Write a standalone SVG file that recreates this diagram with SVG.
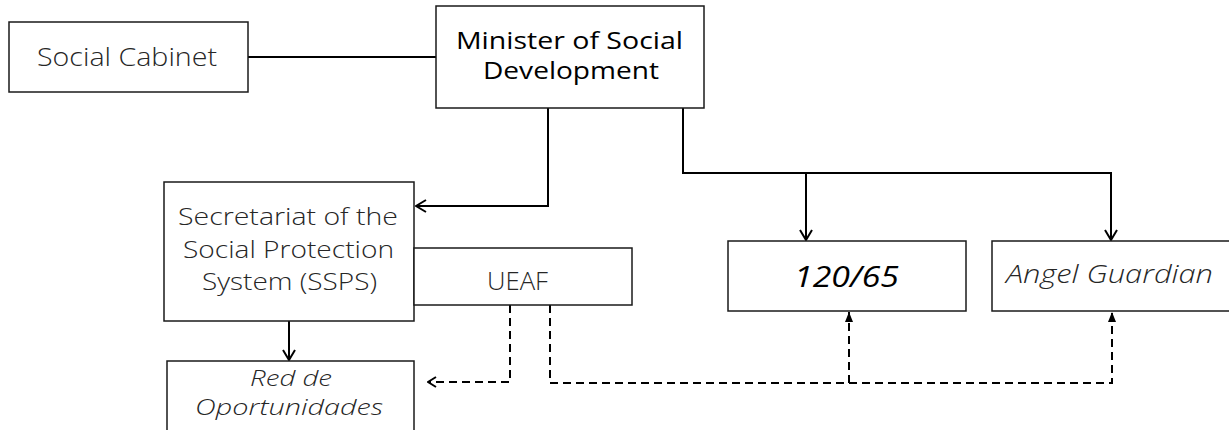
<svg xmlns="http://www.w3.org/2000/svg" width="1229" height="430" viewBox="0 0 1229 430">
  <style>
    .box { fill: #ffffff; stroke: #1a1a1a; stroke-width: 1.5; }
    .lbl { font-family: "Open Sans", "Noto Sans", "DejaVu Sans", sans-serif; font-size: 26px; font-weight: 300; fill: #262626; text-anchor: middle; }
    .tight { font-size: 24px; }
    .tighter { font-size: 22px; }
    .strong { font-weight: 400; fill: #000000; }
    .it { font-style: italic; }
    .solid { fill: none; stroke: #000000; stroke-width: 2; }
    .dash { fill: none; stroke: #000000; stroke-width: 2; stroke-dasharray: 8 5; }
  </style>
  <defs>
    <marker id="chev" viewBox="0 0 12 14" refX="11" refY="7" markerWidth="12" markerHeight="14" markerUnits="userSpaceOnUse" orient="auto">
      <path d="M1,1 L11,7 L1,13" fill="none" stroke="#000000" stroke-width="2"/>
    </marker>
    <marker id="chevs" viewBox="0 0 10 12" refX="9" refY="6" markerWidth="10" markerHeight="12" markerUnits="userSpaceOnUse" orient="auto">
      <path d="M1,1 L9,6 L1,11" fill="none" stroke="#000000" stroke-width="2"/>
    </marker>
    <marker id="tri" viewBox="0 0 10 8" refX="10" refY="4" markerWidth="10" markerHeight="8" markerUnits="userSpaceOnUse" orient="auto">
      <path d="M0,0 L10,4 L0,8 z" fill="#000000"/>
    </marker>
  </defs>

  <g id="connectors">
    <path class="solid" d="M248,57 H436"/>
    <path class="solid" d="M548,108 V206 H416" marker-end="url(#chev)"/>
    <path class="solid" d="M683,108 V173 H1111 V240" marker-end="url(#chev)"/>
    <path class="solid" d="M806,173 V240" marker-end="url(#chev)"/>
    <path class="solid" d="M289,321 V360" marker-end="url(#chev)"/>
    <path class="dash" d="M510,305 V382 H428" marker-end="url(#chevs)"/>
    <path class="dash" d="M550,305 V383 H1112 V312" marker-end="url(#tri)"/>
    <path class="dash" d="M849,383 V312" marker-end="url(#tri)"/>
  </g>

  <g id="social-cabinet">
    <rect class="box" x="9" y="22" width="239" height="70"/>
    <text class="lbl" x="127" y="66" textLength="180" lengthAdjust="spacingAndGlyphs">Social Cabinet</text>
  </g>

  <g id="minister">
    <rect class="box" x="436" y="6" width="268" height="102"/>
    <text class="lbl tight strong" x="569.5" y="49" textLength="227" lengthAdjust="spacingAndGlyphs">Minister of Social</text>
    <text class="lbl tight strong" x="571" y="79" textLength="176" lengthAdjust="spacingAndGlyphs">Development</text>
  </g>

  <g id="sspos">
    <rect class="box" x="164" y="182" width="250" height="139"/>
    <text class="lbl tight" x="288" y="225" textLength="220" lengthAdjust="spacingAndGlyphs">Secretariat of the</text>
    <text class="lbl tight" x="288.5" y="258" textLength="211" lengthAdjust="spacingAndGlyphs">Social Protection</text>
    <text class="lbl tight" x="289.5" y="290" textLength="175" lengthAdjust="spacingAndGlyphs">System (SSPS)</text>
  </g>

  <g id="ueaf">
    <rect class="box" x="414" y="248" width="218" height="57"/>
    <text class="lbl" x="517.5" y="290" textLength="61" lengthAdjust="spacingAndGlyphs">UEAF</text>
  </g>

  <g id="red-de-oportunidades">
    <rect class="box" x="167" y="361" width="247" height="80"/>
    <text class="lbl tighter it" x="291" y="386" textLength="82" lengthAdjust="spacingAndGlyphs">Red de</text>
    <text class="lbl tighter it" x="289" y="415" textLength="188" lengthAdjust="spacingAndGlyphs">Oportunidades</text>
  </g>

  <g id="p120-65">
    <rect class="box" x="728" y="241" width="238" height="70"/>
    <text class="lbl it strong" x="846.5" y="287" textLength="105" lengthAdjust="spacingAndGlyphs" style="font-size:29px">120/65</text>
  </g>

  <g id="angel-guardian">
    <rect class="box" x="992" y="241" width="242" height="70"/>
    <text class="lbl it" x="1109.5" y="283" textLength="207" lengthAdjust="spacingAndGlyphs">Angel Guardian</text>
  </g>
</svg>
